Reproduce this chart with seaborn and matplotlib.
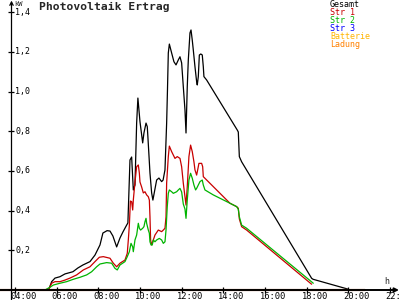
import numpy as np
import pandas as pd
import matplotlib
matplotlib.use("Agg")
import matplotlib.pyplot as plt
import seaborn as sns

# ---------------- data (hours, kW) ----------------
gesamt_t = [5.44, 5.63, 5.76, 5.92, 6.16, 6.40, 6.78, 7.02, 7.26, 7.60, 7.84, 8.08, 8.22, 8.42,
            8.56, 8.70, 8.88, 9.04, 9.18, 9.36, 9.42, 9.52, 9.60, 9.68, 9.76, 9.84, 9.90, 10.00,
            10.13, 10.19, 10.29, 10.35, 10.38, 10.48, 10.56, 10.62, 10.80, 10.91, 11.04, 11.11,
            11.20, 11.28, 11.32, 11.36, 11.41, 11.52, 11.63, 11.73, 11.84, 11.92, 12.00, 12.08,
            12.16, 12.21, 12.27, 12.32, 12.40, 12.45, 12.51, 12.56, 12.64, 12.72, 12.75, 12.80,
            12.85, 12.92, 12.99, 13.04, 13.07, 13.20, 14.67, 14.72, 14.77, 14.88, 18.24, 18.31, 20.00]
gesamt_v = [0.0, 0.005, 0.042, 0.060, 0.067, 0.081, 0.092, 0.111, 0.126, 0.143, 0.176, 0.227, 0.287, 0.299,
            0.297, 0.272, 0.217, 0.262, 0.292, 0.327, 0.338, 0.655, 0.670, 0.504, 0.529, 0.841, 0.967, 0.848,
            0.741, 0.791, 0.841, 0.823, 0.772, 0.589, 0.489, 0.453, 0.554, 0.564, 0.546, 0.554,
            0.605, 0.841, 1.008, 1.194, 1.239, 1.194, 1.150, 1.134, 1.159, 1.175, 1.144, 1.024,
            0.907, 0.791, 1.024, 1.159, 1.295, 1.310, 1.259, 1.209, 1.125, 1.049, 1.033, 1.075,
            1.184, 1.189, 1.184, 1.125, 1.075, 1.058, 0.806, 0.796, 0.672, 0.646, 0.059, 0.054, 0.004]

str1_t = [5.44, 5.63, 5.76, 5.92, 6.16, 6.40, 6.64, 6.96, 7.28, 7.60, 7.84, 8.05, 8.24, 8.56, 8.72,
          8.88, 9.04, 9.28, 9.39, 9.44, 9.49, 9.54, 9.60, 9.65, 9.68, 9.76, 9.84, 9.92, 9.97, 10.00,
          10.08, 10.16, 10.24, 10.32, 10.40, 10.45, 10.48, 10.51, 10.56, 10.64, 10.72, 10.88, 11.04,
          11.12, 11.20, 11.25, 11.28, 11.36, 11.41, 11.52, 11.68, 11.79, 11.92, 12.00, 12.08, 12.16,
          12.21, 12.27, 12.35, 12.43, 12.51, 12.59, 12.64, 12.72, 12.77, 12.83, 12.96, 13.01, 13.04,
          14.32, 14.64, 14.72, 14.77, 14.88, 15.12, 18.24]
str1_v = [0.0, 0.005, 0.034, 0.042, 0.042, 0.050, 0.060, 0.076, 0.101, 0.117, 0.143, 0.165, 0.168, 0.160, 0.135,
          0.117, 0.135, 0.151, 0.185, 0.252, 0.327, 0.448, 0.445, 0.403, 0.453, 0.544, 0.621, 0.630, 0.589, 0.544,
          0.519, 0.489, 0.495, 0.479, 0.470, 0.453, 0.369, 0.252, 0.227, 0.252, 0.277, 0.302, 0.294,
          0.302, 0.311, 0.369, 0.539, 0.672, 0.725, 0.697, 0.663, 0.672, 0.663, 0.621, 0.538, 0.470,
          0.428, 0.520, 0.672, 0.730, 0.697, 0.646, 0.605, 0.579, 0.605, 0.638, 0.638, 0.621, 0.571,
          0.437, 0.420, 0.412, 0.358, 0.319, 0.302, 0.029]

str2_t = [5.44, 5.68, 5.84, 6.16, 6.48, 6.80, 7.12, 7.44, 7.68, 7.92, 8.08, 8.40, 8.64, 8.80, 8.91,
          9.04, 9.28, 9.39, 9.49, 9.57, 9.65, 9.68, 9.76, 9.84, 9.92, 9.97, 10.03, 10.13, 10.19, 10.24,
          10.29, 10.32, 10.40, 10.45, 10.48, 10.53, 10.59, 10.64, 10.72, 10.80, 10.93, 11.04, 11.12,
          11.20, 11.25, 11.31, 11.36, 11.41, 11.52, 11.60, 11.76, 11.84, 11.92, 12.00, 12.08, 12.16,
          12.21, 12.27, 12.35, 12.43, 12.51, 12.59, 12.67, 12.72, 12.80, 12.88, 12.99, 13.04, 13.12,
          13.52, 14.32, 14.64, 14.72, 14.77, 14.88, 15.12, 18.32]
str2_v = [0.0, 0.014, 0.025, 0.034, 0.042, 0.054, 0.064, 0.076, 0.092, 0.117, 0.131, 0.138, 0.135, 0.109, 0.101,
          0.126, 0.143, 0.168, 0.193, 0.235, 0.217, 0.193, 0.252, 0.277, 0.336, 0.311, 0.302, 0.311, 0.319, 0.344,
          0.361, 0.336, 0.302, 0.286, 0.243, 0.227, 0.227, 0.252, 0.243, 0.252, 0.260, 0.252, 0.235,
          0.243, 0.302, 0.420, 0.487, 0.504, 0.495, 0.487, 0.495, 0.504, 0.512, 0.494, 0.433, 0.408,
          0.361, 0.453, 0.554, 0.588, 0.563, 0.529, 0.504, 0.512, 0.529, 0.546, 0.554, 0.529, 0.504,
          0.479, 0.437, 0.420, 0.407, 0.369, 0.327, 0.311, 0.034]

zero_t = [0.0, 20.8]
str3_v = [0.0, 0.0]
batterie_v = [0.0, 0.0]
ladung_v = [0.0, 0.0]

x_ticks = [4, 6, 8, 10, 12, 14, 16, 18, 20, 22]
x_labels = ["04:00", "06:00", "08:00", "10:00", "12:00", "14:00", "16:00", "18:00", "20:00", "22:00"]
y_ticks = [0.2, 0.4, 0.6, 0.8, 1.0, 1.2, 1.4]
y_labels = ["0,2", "0,4", "0,6", "0,8", "1,0", "1,2", "1,4"]

series_names = ["Gesamt", "Str 1", "Str 2", "Str 3", "Batterie", "Ladung"]
colors = {"Gesamt": "#000000", "Str 1": "#C80000", "Str 2": "#00B400",
          "Str 3": "#0000FF", "Batterie": "#FFB400", "Ladung": "#FF8000"}

# ---------------- figure ----------------
sns.set_style("white")
plt.rcParams['font.family'] = ['DejaVu Sans Mono', 'DejaVu Sans']
fig = plt.figure(figsize=(4, 3), dpi=100)
ax = fig.add_axes([0, 0, 1, 1])
ax.axis("off")

W, H = 400, 300
XL = (3.280, 22.483)
YL = (-0.0504, 1.461)
ax.set_xlim(*XL)
ax.set_ylim(*YL)

def px_t(px):
    return XL[0] + px / W * (XL[1] - XL[0])

axis_t = px_t(11.5)

frames = {
    "Gesamt": pd.DataFrame({"t": gesamt_t, "v": gesamt_v}),
    "Str 1": pd.DataFrame({"t": str1_t, "v": str1_v}),
    "Str 2": pd.DataFrame({"t": str2_t, "v": str2_v}),
    "Str 3": pd.DataFrame({"t": zero_t, "v": str3_v}),
    "Batterie": pd.DataFrame({"t": zero_t, "v": batterie_v}),
    "Ladung": pd.DataFrame({"t": zero_t, "v": ladung_v}),
}

# axes lines with arrows
ax.annotate("", xy=(px_t(399), 0), xytext=(XL[0], 0),
            arrowprops=dict(arrowstyle="-|>", lw=1.4, color="black", mutation_scale=6,
                            shrinkA=0, shrinkB=0))
ax.annotate("", xy=(axis_t, 0.998), xytext=(axis_t, 0.0),
            xycoords=("data", "axes fraction"), textcoords=("data", "axes fraction"),
            arrowprops=dict(arrowstyle="->", lw=0.9, color="black", mutation_scale=6,
                            shrinkA=0, shrinkB=0))

for name in series_names:
    lw = 0.9 if name in ("Gesamt", "Str 1", "Str 2") else 1.5
    sns.lineplot(data=frames[name], x="t", y="v", ax=ax, color=colors[name],
                 linewidth=lw, estimator=None, legend=False)

# tick marks
ax.plot(x_ticks, [0] * len(x_ticks), linestyle="none", marker="|", markersize=5,
        markeredgewidth=0.9, color="black")
ax.plot([axis_t] * len(y_ticks), y_ticks, linestyle="none", marker="_", markersize=5,
        markeredgewidth=0.9, color="black")

for t, lab in zip(x_ticks, x_labels):
    ax.annotate(lab, xy=(t, 0), xytext=(-5, -7), textcoords="offset pixels",
                ha="left", va="center", fontsize=6.3, color="black")
for v, lab in zip(y_ticks, y_labels):
    ax.annotate(lab, xy=(axis_t, v), xytext=(4, 0), textcoords="offset pixels",
                ha="left", va="center", fontsize=6, color="black")

def ftext(x, y, s, **kw):
    fig.text(x / W, 1 - y / H, s, **kw)

ftext(39, 6.7, "Photovoltaik Ertrag", fontsize=8.2, fontweight="bold", ha="left", va="center")
ftext(14, 4.5, "kW", fontsize=5, ha="left", va="center")
ftext(384, 281, "h", fontsize=6, ha="left", va="center")

leg_y = [4.5, 12.5, 20.5, 28.5, 36.3, 44.5]
for name, yy in zip(series_names, leg_y):
    ftext(330, yy, name, fontsize=6, ha="left", va="center", color=colors[name])

fig.savefig("out.png", dpi=100)
